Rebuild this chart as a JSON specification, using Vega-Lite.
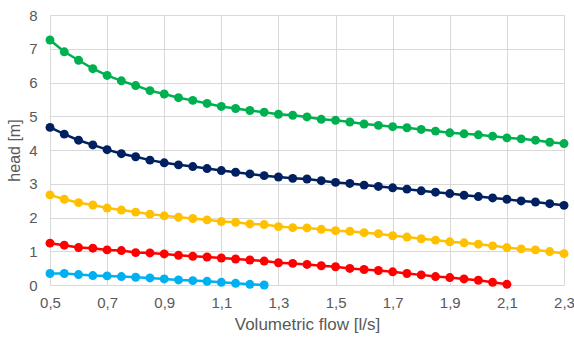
{
  "$schema": "https://vega.github.io/schema/vega-lite/v6.json",
  "width": 514,
  "height": 270,
  "autosize": "none",
  "padding": {"left": 50, "top": 15, "right": 10, "bottom": 53},
  "background": "white",
  "config": {
    "view": {"stroke": null},
    "font": "Liberation Sans",
    "axis": {
      "labelColor": "#595959",
      "titleColor": "#595959",
      "labelFontSize": 15,
      "titleFontSize": 16,
      "titleFontWeight": "normal",
      "gridColor": "#d9d9d9",
      "gridWidth": 1,
      "domainColor": "#d9d9d9",
      "ticks": false
    }
  },
  "datasets": {
    "d": [
      {"s":"A","x":0.5,"y":7.26},{"s":"A","x":0.55,"y":6.91},{"s":"A","x":0.6,"y":6.66},{"s":"A","x":0.65,"y":6.41},{"s":"A","x":0.7,"y":6.21},{"s":"A","x":0.75,"y":6.05},{"s":"A","x":0.8,"y":5.91},{"s":"A","x":0.85,"y":5.76},{"s":"A","x":0.9,"y":5.66},{"s":"A","x":0.95,"y":5.55},{"s":"A","x":1.0,"y":5.47},{"s":"A","x":1.05,"y":5.38},{"s":"A","x":1.1,"y":5.29},{"s":"A","x":1.15,"y":5.23},{"s":"A","x":1.2,"y":5.17},{"s":"A","x":1.25,"y":5.12},{"s":"A","x":1.3,"y":5.06},{"s":"A","x":1.35,"y":5.03},{"s":"A","x":1.4,"y":4.98},{"s":"A","x":1.45,"y":4.91},{"s":"A","x":1.5,"y":4.88},{"s":"A","x":1.55,"y":4.83},{"s":"A","x":1.6,"y":4.77},{"s":"A","x":1.65,"y":4.73},{"s":"A","x":1.7,"y":4.69},{"s":"A","x":1.75,"y":4.66},{"s":"A","x":1.8,"y":4.61},{"s":"A","x":1.85,"y":4.56},{"s":"A","x":1.9,"y":4.51},{"s":"A","x":1.95,"y":4.48},{"s":"A","x":2.0,"y":4.45},{"s":"A","x":2.05,"y":4.41},{"s":"A","x":2.1,"y":4.36},{"s":"A","x":2.15,"y":4.33},{"s":"A","x":2.2,"y":4.29},{"s":"A","x":2.25,"y":4.23},{"s":"A","x":2.3,"y":4.19},

      {"s":"B","x":0.5,"y":4.67},{"s":"B","x":0.55,"y":4.47},{"s":"B","x":0.6,"y":4.29},{"s":"B","x":0.65,"y":4.15},{"s":"B","x":0.7,"y":4.01},{"s":"B","x":0.75,"y":3.89},{"s":"B","x":0.8,"y":3.8},{"s":"B","x":0.85,"y":3.7},{"s":"B","x":0.9,"y":3.62},{"s":"B","x":0.95,"y":3.56},{"s":"B","x":1.0,"y":3.51},{"s":"B","x":1.05,"y":3.45},{"s":"B","x":1.1,"y":3.39},{"s":"B","x":1.15,"y":3.34},{"s":"B","x":1.2,"y":3.29},{"s":"B","x":1.25,"y":3.24},{"s":"B","x":1.3,"y":3.2},{"s":"B","x":1.35,"y":3.16},{"s":"B","x":1.4,"y":3.14},{"s":"B","x":1.45,"y":3.09},{"s":"B","x":1.5,"y":3.04},{"s":"B","x":1.55,"y":3.01},{"s":"B","x":1.6,"y":2.96},{"s":"B","x":1.65,"y":2.92},{"s":"B","x":1.7,"y":2.88},{"s":"B","x":1.75,"y":2.84},{"s":"B","x":1.8,"y":2.79},{"s":"B","x":1.85,"y":2.75},{"s":"B","x":1.9,"y":2.71},{"s":"B","x":1.95,"y":2.66},{"s":"B","x":2.0,"y":2.62},{"s":"B","x":2.05,"y":2.58},{"s":"B","x":2.1,"y":2.54},{"s":"B","x":2.15,"y":2.49},{"s":"B","x":2.2,"y":2.46},{"s":"B","x":2.25,"y":2.41},{"s":"B","x":2.3,"y":2.36},

      {"s":"C","x":0.5,"y":2.67},{"s":"C","x":0.55,"y":2.54},{"s":"C","x":0.6,"y":2.44},{"s":"C","x":0.65,"y":2.37},{"s":"C","x":0.7,"y":2.28},{"s":"C","x":0.75,"y":2.22},{"s":"C","x":0.8,"y":2.16},{"s":"C","x":0.85,"y":2.1},{"s":"C","x":0.9,"y":2.05},{"s":"C","x":0.95,"y":2.01},{"s":"C","x":1.0,"y":1.97},{"s":"C","x":1.05,"y":1.93},{"s":"C","x":1.1,"y":1.88},{"s":"C","x":1.15,"y":1.86},{"s":"C","x":1.2,"y":1.81},{"s":"C","x":1.25,"y":1.79},{"s":"C","x":1.3,"y":1.73},{"s":"C","x":1.35,"y":1.7},{"s":"C","x":1.4,"y":1.69},{"s":"C","x":1.45,"y":1.65},{"s":"C","x":1.5,"y":1.61},{"s":"C","x":1.55,"y":1.59},{"s":"C","x":1.6,"y":1.55},{"s":"C","x":1.65,"y":1.52},{"s":"C","x":1.7,"y":1.46},{"s":"C","x":1.75,"y":1.42},{"s":"C","x":1.8,"y":1.37},{"s":"C","x":1.85,"y":1.33},{"s":"C","x":1.9,"y":1.28},{"s":"C","x":1.95,"y":1.25},{"s":"C","x":2.0,"y":1.21},{"s":"C","x":2.05,"y":1.16},{"s":"C","x":2.1,"y":1.11},{"s":"C","x":2.15,"y":1.07},{"s":"C","x":2.2,"y":1.04},{"s":"C","x":2.25,"y":0.99},{"s":"C","x":2.3,"y":0.93},

      {"s":"D","x":0.5,"y":1.24},{"s":"D","x":0.55,"y":1.18},{"s":"D","x":0.6,"y":1.11},{"s":"D","x":0.65,"y":1.09},{"s":"D","x":0.7,"y":1.04},{"s":"D","x":0.75,"y":1.02},{"s":"D","x":0.8,"y":0.96},{"s":"D","x":0.85,"y":0.95},{"s":"D","x":0.9,"y":0.92},{"s":"D","x":0.95,"y":0.88},{"s":"D","x":1.0,"y":0.85},{"s":"D","x":1.05,"y":0.83},{"s":"D","x":1.1,"y":0.8},{"s":"D","x":1.15,"y":0.77},{"s":"D","x":1.2,"y":0.74},{"s":"D","x":1.25,"y":0.71},{"s":"D","x":1.3,"y":0.66},{"s":"D","x":1.35,"y":0.64},{"s":"D","x":1.4,"y":0.61},{"s":"D","x":1.45,"y":0.57},{"s":"D","x":1.5,"y":0.54},{"s":"D","x":1.55,"y":0.49},{"s":"D","x":1.6,"y":0.46},{"s":"D","x":1.65,"y":0.43},{"s":"D","x":1.7,"y":0.39},{"s":"D","x":1.75,"y":0.34},{"s":"D","x":1.8,"y":0.3},{"s":"D","x":1.85,"y":0.25},{"s":"D","x":1.9,"y":0.22},{"s":"D","x":1.95,"y":0.18},{"s":"D","x":2.0,"y":0.14},{"s":"D","x":2.05,"y":0.08},{"s":"D","x":2.1,"y":0.02},

      {"s":"E","x":0.5,"y":0.34},{"s":"E","x":0.55,"y":0.34},{"s":"E","x":0.6,"y":0.31},{"s":"E","x":0.65,"y":0.28},{"s":"E","x":0.7,"y":0.27},{"s":"E","x":0.75,"y":0.25},{"s":"E","x":0.8,"y":0.23},{"s":"E","x":0.85,"y":0.21},{"s":"E","x":0.9,"y":0.18},{"s":"E","x":0.95,"y":0.15},{"s":"E","x":1.0,"y":0.13},{"s":"E","x":1.05,"y":0.11},{"s":"E","x":1.1,"y":0.08},{"s":"E","x":1.15,"y":0.05},{"s":"E","x":1.2,"y":0.02},{"s":"E","x":1.25,"y":0.0}
    ]
  },
  "data": {"name": "d"},
  "encoding": {
    "x": {
      "field": "x", "type": "quantitative",
      "scale": {"domain": [0.5, 2.3], "nice": false, "zero": false},
      "axis": {
        "title": "Volumetric flow [l/s]",
        "titleFontSize": 17,
        "values": [0.5, 0.7, 0.9, 1.1, 1.3, 1.5, 1.7, 1.9, 2.1, 2.3],
        "labelExpr": "replace(format(datum.value, '.1f'), '.', ',')",
        "labelPadding": 10,
        "titlePadding": 6,
        "labelFlush": false,
        "labelOverlap": false
      }
    },
    "y": {
      "field": "y", "type": "quantitative",
      "scale": {"domain": [0, 8], "nice": false},
      "axis": {
        "title": "head [m]",
        "values": [0, 1, 2, 3, 4, 5, 6, 7, 8],
        "labelPadding": 13,
        "titlePadding": 6
      }
    },
    "color": {
      "field": "s", "type": "nominal", "legend": null,
      "scale": {"domain": ["A", "B", "C", "D", "E"], "range": ["#00b050", "#002060", "#ffc000", "#ff0000", "#00b0f0"]}
    }
  },
  "layer": [
    {"mark": {"type": "line", "strokeWidth": 2.5}},
    {"mark": {"type": "point", "filled": true, "opacity": 1, "size": 80}}
  ]
}
